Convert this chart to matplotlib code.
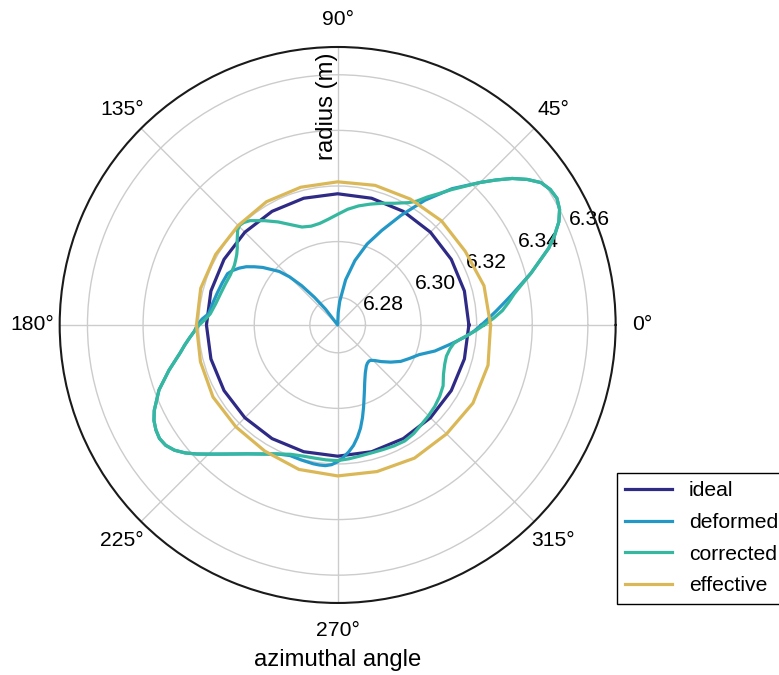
#%%
# IMPORT LIBRARIES
import numpy as np
import matplotlib
matplotlib.use('Agg')
import matplotlib.pyplot as plt


# %%
# radius profiles (m) against azimuth (deg)
poly_deg = [0, 15, 30, 45, 60, 75, 90, 105, 120, 135, 150, 165, 180,
            195, 210, 225, 240, 255, 270, 285, 300, 315, 330, 345, 360]

ideal_r = [6.3172, 6.3172, 6.3172, 6.3172, 6.3172, 6.3172, 6.3172, 6.3172, 6.3172,
           6.3172, 6.3172, 6.3172, 6.3172, 6.3172, 6.3172, 6.3172, 6.3172, 6.3172,
           6.3172, 6.3172, 6.3172, 6.3172, 6.3172, 6.3172, 6.3172]

effective_r = [6.3250, 6.3245, 6.3230, 6.3229, 6.3223, 6.3220, 6.3215, 6.3213, 6.3212,
               6.3206, 6.3207, 6.3210, 6.3208, 6.3211, 6.3218, 6.3218, 6.3224, 6.3238,
               6.3243, 6.3246, 6.3253, 6.3254, 6.3262, 6.3260, 6.3250]

deformed_deg = [0, 2.5, 5, 7.5, 10, 15, 20, 22.5, 25, 27.5, 30, 32.5, 35, 37.5, 40, 42.5,
                45, 50, 55, 60, 65, 70, 75, 80, 85, 87.5, 90,
                125, 127.5, 130, 132.5, 135, 137.5, 140, 142.5, 145, 147.5, 150, 152.5,
                155, 160, 165, 170, 175, 177.5, 180, 182.5, 185, 187.5, 190, 195, 200,
                205, 207.5, 210, 212.5, 215, 217.5, 220, 222.5, 225, 227.5, 230, 235,
                240, 245, 250, 255, 260, 262.5, 265, 267.5, 270, 272.5, 275, 277.5,
                280, 282.5, 285, 287.5, 290, 292.5, 295, 297.5, 300, 305, 308, 311,
                313, 316, 320, 325, 330, 335, 340, 345, 350, 352.5, 355, 357.5, 360]
deformed_r = [6.3217, 6.3243, 6.3272, 6.3303, 6.3338, 6.3420, 6.3508, 6.3545, 6.3578,
              6.3600, 6.3611, 6.3607, 6.3593, 6.3560, 6.3520, 6.3472, 6.3425, 6.3340,
              6.3248, 6.3155, 6.3075, 6.3010, 6.2940, 6.2865, 6.2785, 6.2745, 6.2700,
              6.2700, 6.2772, 6.2830, 6.2892, 6.2945, 6.2985, 6.3010, 6.3040, 6.3065,
              6.3090, 6.3109, 6.3125, 6.3137, 6.3142, 6.3148, 6.3156, 6.3166, 6.3188,
              6.3205, 6.3216, 6.3235, 6.3255, 6.3275, 6.3328, 6.3384, 6.3428, 6.3445,
              6.3455, 6.3460, 6.3455, 6.3440, 6.3416, 6.3387, 6.3357, 6.3330, 6.3306,
              6.3266, 6.3236, 6.3212, 6.3200, 6.3203, 6.3207, 6.3208, 6.3208, 6.3203,
              6.3192, 6.3176, 6.3158, 6.3137, 6.3110, 6.3080, 6.3045, 6.3010, 6.2978,
              6.2952, 6.2930, 6.2913, 6.2899, 6.2880, 6.2874, 6.2872, 6.2874, 6.2884,
              6.2905, 6.2933, 6.2962, 6.2985, 6.3012, 6.3062, 6.3108, 6.3135, 6.3165,
              6.3192, 6.3217]

corrected_deg = [0, 2.5, 5, 7.5, 10, 15, 20, 22.5, 25, 27.5, 30, 32.5, 35, 37.5, 40, 42.5,
                 45, 50, 52.5, 55, 57.5, 60, 62.5, 65, 70, 75, 80, 85, 90, 95, 100, 105,
                 110, 115, 120, 125, 130, 132.5, 134.5, 136.5, 138, 140, 142.5, 145, 147.5,
                 150, 155, 160, 165, 170, 175, 177.5, 180, 182.5, 185, 187.5, 190, 195,
                 200, 205, 207.5, 210, 212.5, 215, 217.5, 220, 222.5, 225, 227.5, 230,
                 235, 240, 245, 250, 255, 260, 265, 270, 275, 280, 285, 290, 295, 300,
                 305, 310, 315, 320, 325, 330, 335, 340, 344, 348, 351, 353, 355, 357.5,
                 360]
corrected_r = [6.3227, 6.3262, 6.3295, 6.3320, 6.3345, 6.3420, 6.3508, 6.3545, 6.3578,
               6.3600, 6.3611, 6.3607, 6.3593, 6.3560, 6.3520, 6.3472, 6.3425, 6.3335,
               6.3295, 6.3262, 6.3228, 6.3208, 6.3195, 6.3183, 6.3166, 6.3150, 6.3135,
               6.3118, 6.3098, 6.3082, 6.3071, 6.3068, 6.3075, 6.3098, 6.3128, 6.3158,
               6.3190, 6.3200, 6.3203, 6.3196, 6.3185, 6.3172, 6.3155, 6.3143, 6.3135,
               6.3129, 6.3126, 6.3130, 6.3136, 6.3145, 6.3160, 6.3176, 6.3198, 6.3216,
               6.3235, 6.3255, 6.3275, 6.3328, 6.3384, 6.3428, 6.3445, 6.3455, 6.3460,
               6.3455, 6.3440, 6.3416, 6.3387, 6.3357, 6.3330, 6.3306, 6.3266, 6.3236,
               6.3212, 6.3195, 6.3188, 6.3186, 6.3187, 6.3188, 6.3183, 6.3178, 6.3176,
               6.3177, 6.3180, 6.3182, 6.3177, 6.3168, 6.3162, 6.3156, 6.3148, 6.3138,
               6.3120, 6.3110, 6.3107, 6.3113, 6.3123, 6.3140, 6.3163, 6.3195, 6.3227]

series_labels = ['ideal', 'deformed', 'corrected', 'effective']
series_colors = ['#2e2a85', '#2398c7', '#36b8a0', '#dbb857']
r_ticks = [6.28, 6.30, 6.32, 6.34, 6.36]


# %%
# Plot
plt.rcParams['font.family'] = ['Liberation Sans', 'DejaVu Sans']
plt.rcParams['axes.unicode_minus'] = False

fig = plt.figure(figsize=(7.79, 6.75), dpi=100)
ax = fig.add_axes([0.0766, 0.1067, 0.7137, 0.8237], projection='polar')

series = [(poly_deg, ideal_r), (deformed_deg, deformed_r),
          (corrected_deg, corrected_r), (poly_deg, effective_r)]
for (deg, r), lab, col in zip(series, series_labels, series_colors):
    ax.plot(np.deg2rad(deg), r, color=col, lw=2.3, label=lab,
            solid_joinstyle='round')

ax.set_rlim(6.27, 6.37)
ax.set_rticks(r_ticks)
ax.set_yticklabels(['%.2f' % t for t in r_ticks])
ax.grid(True, color='0.8', lw=1.0)
ax.spines['polar'].set_color('0.1')
ax.spines['polar'].set_linewidth(1.5)
ax.tick_params(axis='x', labelsize=15.2, pad=9)
ax.tick_params(axis='y', labelsize=15.2)

ax.set_xlabel('azimuthal angle', fontsize=17.2, labelpad=7)
ax.set_ylabel('radius (m)', fontsize=17.2)
ax.yaxis.set_label_coords(0.5, 0.894)

leg = ax.legend(loc='upper left', bbox_to_anchor=(617 / 779, 1 - 473 / 675),
                bbox_transform=fig.transFigure, borderaxespad=0, fontsize=15.2,
                fancybox=False, framealpha=1, edgecolor='black',
                labelspacing=0.6, handlelength=2.2, handletextpad=0.8)
leg.get_frame().set_linewidth(1.0)

fig.savefig('out.png', dpi=100)
